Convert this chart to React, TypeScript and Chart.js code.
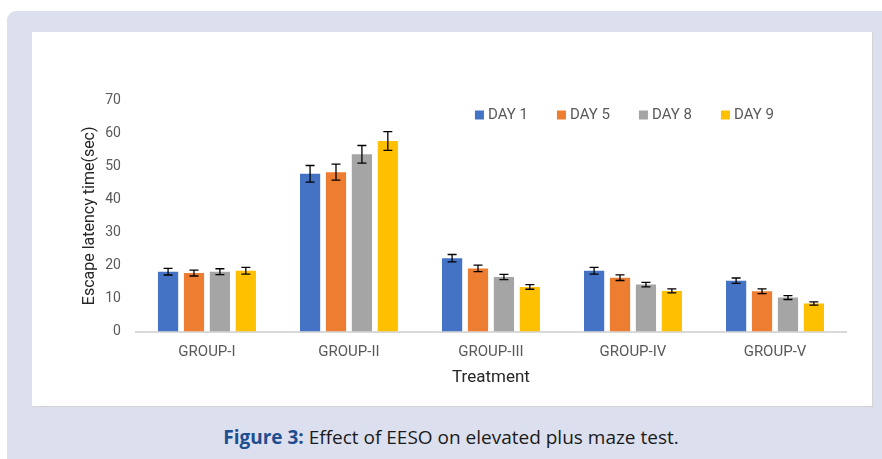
import React, { useEffect, useRef } from "react";
import { Chart, registerables } from "chart.js";

Chart.register(...registerables);

const categories = ["GROUP-I", "GROUP-II", "GROUP-III", "GROUP-IV", "GROUP-V"];
const seriesNames = ["DAY 1", "DAY 5", "DAY 8", "DAY 9"];
const seriesColors = ["#4472C4", "#ED7D31", "#A5A5A5", "#FFC000"];

const day1 = [18.1, 47.7, 22.2, 18.4, 15.4];
const day5 = [17.7, 48.2, 19.1, 16.3, 12.2];
const day8 = [18.1, 53.6, 16.5, 14.2, 10.3];
const day9 = [18.4, 57.6, 13.5, 12.3, 8.5];

const err1 = [1.0, 2.5, 1.1, 1.0, 0.8];
const err5 = [0.9, 2.4, 1.0, 0.85, 0.7];
const err8 = [0.9, 2.65, 0.8, 0.7, 0.6];
const err9 = [1.0, 2.85, 0.7, 0.6, 0.5];

const yTicks = [0, 10, 20, 30, 40, 50, 60, 70];

const seriesValues = [day1, day5, day8, day9];
const seriesErrors = [err1, err5, err8, err9];

const FONT = "Roboto, 'Noto Sans', sans-serif";

const errorBarPlugin = {
  id: "errorBars",
  afterDatasetsDraw(chart: any) {
    const ctx = chart.ctx;
    const yScale = chart.scales.y;
    ctx.save();
    ctx.strokeStyle = "#000000";
    ctx.lineWidth = 1.3;
    chart.data.datasets.forEach((ds: any, di: number) => {
      const meta = chart.getDatasetMeta(di);
      const errs = ds.errors as number[];
      meta.data.forEach((bar: any, i: number) => {
        const v = ds.data[i];
        const e = errs[i];
        const x = bar.x;
        const yt = yScale.getPixelForValue(v + e);
        const yb = yScale.getPixelForValue(v - e);
        const cap = 4.5;
        ctx.beginPath();
        ctx.moveTo(x, yt);
        ctx.lineTo(x, yb);
        ctx.moveTo(x - cap, yt);
        ctx.lineTo(x + cap, yt);
        ctx.moveTo(x - cap, yb);
        ctx.lineTo(x + cap, yb);
        ctx.stroke();
      });
    });
    ctx.restore();
  },
};

const legendPlugin = {
  id: "customLegend",
  afterDraw(chart: any) {
    const ctx = chart.ctx;
    const area = chart.chartArea;
    const startX = area.left + 339;
    const cy = area.top + 15;
    ctx.save();
    ctx.font = `15px ${FONT}`;
    ctx.textBaseline = "middle";
    ctx.textAlign = "left";
    chart.data.datasets.forEach((ds: any, i: number) => {
      const x = startX + i * 82;
      ctx.fillStyle = ds.backgroundColor;
      ctx.fillRect(x, cy - 4.5, 9, 9);
      ctx.fillStyle = "#595959";
      ctx.fillText(ds.label, x + 13, cy + 0.5);
    });
    ctx.restore();
  },
};

function ChartCanvas() {
  const ref = useRef<HTMLCanvasElement | null>(null);
  useEffect(() => {
    if (!ref.current) return;
    const chart = new Chart(ref.current, {
      type: "bar",
      data: {
        labels: categories,
        datasets: seriesNames.map((name, i) => ({
          label: name,
          data: seriesValues[i],
          errors: seriesErrors[i],
          backgroundColor: seriesColors[i],
          borderWidth: 0,
          categoryPercentage: 0.73,
          barPercentage: 0.78,
        })) as any,
      },
      options: {
        responsive: false,
        animation: false,
        layout: { padding: { top: 68, right: 26, bottom: 18, left: 40 } },
        plugins: {
          legend: { display: false },
          tooltip: { enabled: false },
        },
        scales: {
          x: {
            grid: { display: false, drawTicks: false },
            border: { display: true, color: "#d9d9d9", width: 2 },
            ticks: {
              color: "#595959",
              font: { family: FONT, size: 15 },
              padding: 12,
            },
            title: {
              display: true,
              text: "Treatment",
              color: "#262626",
              font: { family: FONT, size: 17 },
              padding: { top: -6, bottom: 0 },
            },
          },
          y: {
            min: 0,
            max: 70,
            afterBuildTicks: (axis: any) => {
              axis.ticks = yTicks.map((v) => ({ value: v }));
            },
            grid: { display: false, drawTicks: false },
            border: { display: false },
            ticks: {
              color: "#595959",
              font: { family: FONT, size: 14 },
              padding: 15,
            },
            title: {
              display: true,
              text: "Escape latency time(sec)",
              color: "#262626",
              font: { family: FONT, size: 16 },
              padding: { top: 8, bottom: -9 },
            },
          },
        },
      },
      plugins: [errorBarPlugin, legendPlugin],
    });
    return () => chart.destroy();
  }, []);
  return <canvas ref={ref} width={840} height={374} style={{ display: "block" }} />;
}

export default function App() {
  return (
    <div
      style={{
        position: "fixed",
        left: 0,
        top: 0,
        width: 882,
        height: 459,
        background: "#ffffff",
        overflow: "hidden",
      }}
    >
      <div
        style={{
          position: "absolute",
          left: 7,
          top: 11,
          width: 900,
          height: 470,
          background: "#dcdfee",
          borderRadius: 9,
        }}
      />
      <div
        style={{
          position: "absolute",
          left: 32,
          top: 32,
          width: 840,
          height: 374,
          background: "#ffffff",
          boxShadow: "1px 1px 0 #d4d4d4",
        }}
      >
        <ChartCanvas />
      </div>
      <div
        style={{
          position: "absolute",
          left: 0,
          width: 902,
          top: 425,
          textAlign: "center",
          fontFamily: "'Open Sans', 'Noto Sans', sans-serif",
          fontSize: 19,
          color: "#1a1a1a",
          lineHeight: "24px",
        }}
      >
        <span style={{ fontWeight: 700, color: "#1d4e8f" }}>Figure 3:</span> Effect of EESO on elevated plus maze test.
      </div>
    </div>
  );
}
